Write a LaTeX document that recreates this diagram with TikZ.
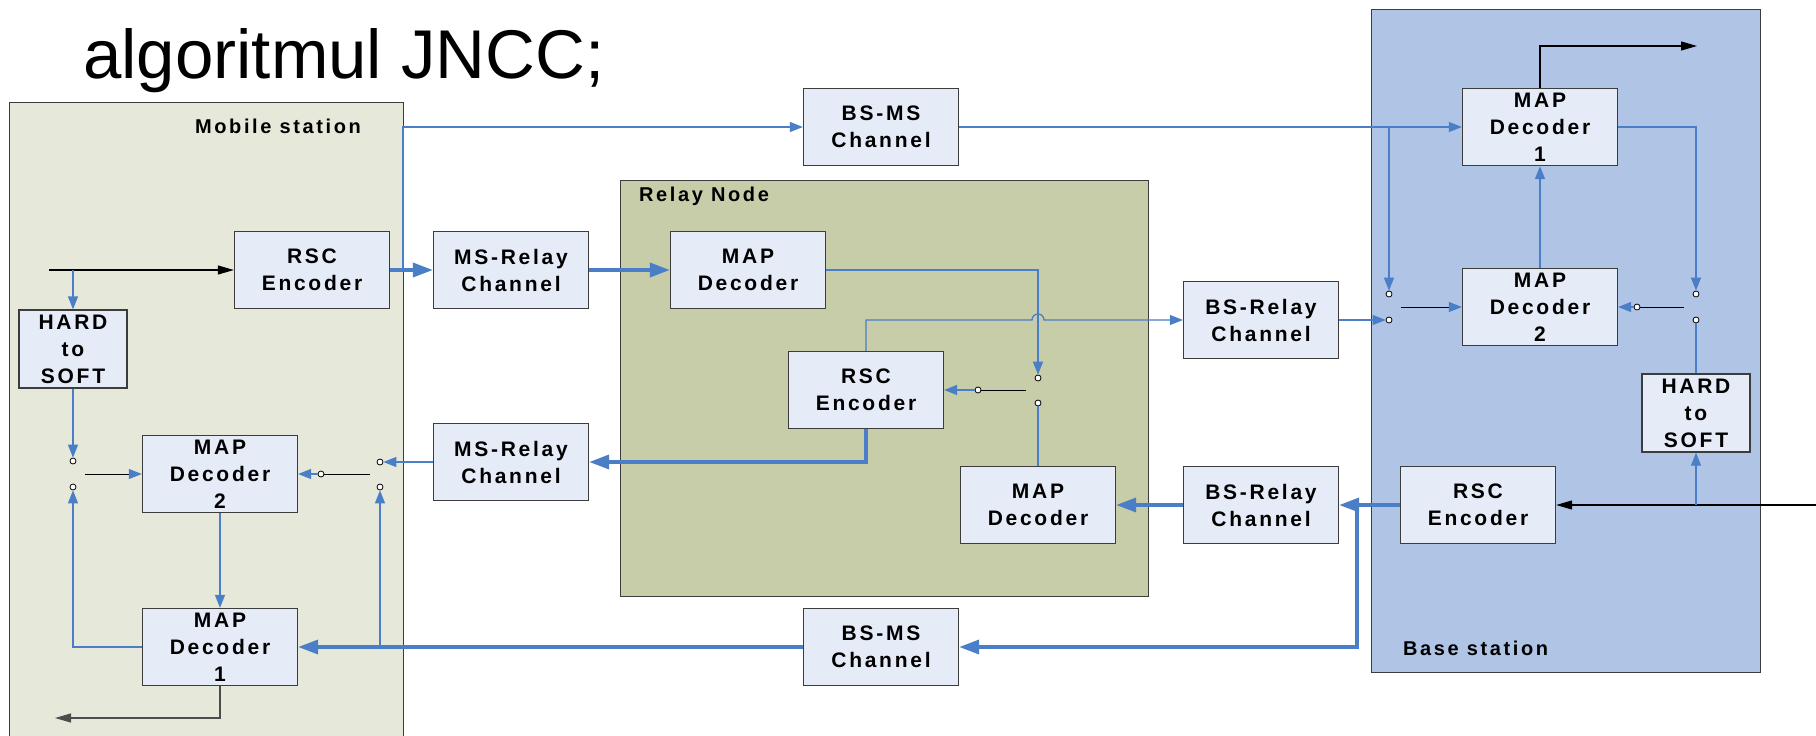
\documentclass[tikz,border=0pt]{standalone}
\usepackage{fontspec}
\setmainfont{Liberation Sans}
\newfontfamily\boxfont[LetterSpace=13]{Liberation Sans}
\usepackage{tikz}
\usetikzlibrary{positioning}
\usetikzlibrary{arrows.meta}

\definecolor{msgreen}{HTML}{E6E9D9}
\definecolor{rngreen}{HTML}{C6CDA8}
\definecolor{bsblue}{HTML}{B0C5E5}
\definecolor{boxfill}{HTML}{E6ECF7}
\definecolor{wireblue}{HTML}{4A7EC7}
\definecolor{edgegray}{HTML}{3C3C3C}

\tikzset{
  station/.style={draw=edgegray, line width=1.2pt, inner sep=0pt},
  stationlabel/.style={font=\boxfont\bfseries\fontsize{20}{24}\selectfont, inner sep=0pt},
  block/.style={draw=edgegray, fill=boxfill, line width=1.3pt, minimum width=155pt, minimum height=77pt, inner sep=0pt, align=center, font=\boxfont\bfseries\fontsize{21}{27}\selectfont},
  smallblock/.style={block, minimum width=108pt, minimum height=78pt},
  contact/.style={circle, draw=black, fill=white, line width=0.8pt, minimum size=6pt, inner sep=0pt},
  wire/.style={draw=wireblue, line width=1.3pt, -{Triangle[length=13pt,width=10pt]}},
  plainwire/.style={draw=wireblue, line width=1.3pt},
  bus/.style={draw=wireblue, line width=3.5pt, -{Triangle[length=20pt,width=14pt]}},
  lever/.style={draw=black, line width=1pt},
  leverwire/.style={draw=black, line width=1pt, -{Triangle[length=13pt,width=10pt,color=wireblue]}},
  signal/.style={draw=black, line width=1.2pt, -{Triangle[length=16pt,width=9pt]}},
}

\begin{document}
\begin{tikzpicture}[x=1pt,y=-1pt]
\useasboundingbox (0,0) rectangle (1816,736);
\clip (0,0) rectangle (1816,736);

\node[station, fill=msgreen, minimum width=394pt, minimum height=700pt, anchor=north west] (ms) at (9,102) {};
\node[station, fill=rngreen, minimum width=528pt, minimum height=416pt, anchor=north west] (rn) at (620,180) {};
\node[station, fill=bsblue, minimum width=389pt, minimum height=663pt, anchor=north west] (bs) at (1371,9) {};

\node[anchor=base west, inner sep=0pt, font=\fontsize{69}{72}\selectfont] (title) at (83,78) {algoritmul JNCC;};
\node[stationlabel, anchor=base] (mslabel) at (278,133) {Mobile station};
\node[stationlabel, anchor=base west] (rnlabel) at (639,201) {Relay Node};
\node[stationlabel, anchor=base west] (bslabel) at (1403,655) {Base station};

\node[block] (msrsc) at (312,270) {RSC\\Encoder};
\node[smallblock] (mshard) at (73,349) {HARD\\to\\SOFT};
\node[block] (msdec2) at (220,474) {MAP\\Decoder\\2};
\node[block] (msdec1) at (220,647) {MAP\\Decoder\\1};
\node[block] (msrel1) at (511,270) {MS-Relay\\Channel};
\node[block] (msrel2) at (511,462) {MS-Relay\\Channel};
\node[block] (bsms1) at (881,127) {BS-MS\\Channel};
\node[block] (bsms2) at (881,647) {BS-MS\\Channel};
\node[block] (rndec1) at (748,270) {MAP\\Decoder};
\node[block] (rnrsc) at (866,390) {RSC\\Encoder};
\node[block] (rndec2) at (1038,505) {MAP\\Decoder};
\node[block] (bsrel1) at (1261,320) {BS-Relay\\Channel};
\node[block] (bsrel2) at (1261,505) {BS-Relay\\Channel};
\node[block] (bsdec1) at (1540,127) {MAP\\Decoder\\1};
\node[block] (bsdec2) at (1540,307) {MAP\\Decoder\\2};
\node[smallblock] (bshard) at (1696,413) {HARD\\to\\SOFT};
\node[block] (bsrsc) at (1478,505) {RSC\\Encoder};

\node[contact] (msA) at (73,461) {};
\node[contact] (msB) at (73,487) {};
\node[contact] (msC) at (380,462) {};
\node[contact] (msD) at (380,487) {};
\node[contact] (msE) at (321,474) {};
\node[contact] (rnA) at (1038,378) {};
\node[contact] (rnB) at (1038,403) {};
\node[contact] (rnE) at (978,390) {};
\node[contact] (bsA) at (1389,294) {};
\node[contact] (bsB) at (1389,320) {};
\node[contact] (bsC) at (1696,294) {};
\node[contact] (bsD) at (1696,320) {};
\node[contact] (bsE) at (1637,307) {};

\coordinate (msin) at (49,270);
\coordinate (mstap) at (73,270);
\coordinate (msG) at (85,474);
\coordinate (msF) at (370,474);
\coordinate (mstap2) at (380,647);
\coordinate (mstap3) at (403,270);
\coordinate (msout) at (55,718);
\coordinate (rnF) at (1026,390);
\coordinate (rnhop) at (1032,320);
\coordinate (bstap1) at (1389,127);
\coordinate (bsG) at (1401,307);
\coordinate (bsF) at (1684,307);
\coordinate (bsout) at (1697,46);
\coordinate (bsin) at (1816,505);
\coordinate (bstap2) at (1696,505);
\coordinate (bstap3) at (1357,505);

\draw[signal] (msin) -- (msrsc.west);
\draw[wire] (mstap) -- (mshard.north);
\draw[wire] (mshard.south) -- (msA);
\draw[leverwire] (msG) -- (msdec2.west);
\draw[wire] (msdec2.south) -- (msdec1.north);
\draw[wire] (msdec1.west) -| (msB);
\draw[signal, draw=black!70] (msdec1.south) |- (msout);
\draw[wire] (msrel2.west) -- (msC);
\draw[lever] (msE) -- (msF);
\draw[wire] (msE) -- (msdec2.east);
\draw[wire] (mstap2) -- (msD);
\draw[bus] (bsms2.west) -- (msdec1.east);
\draw[bus] (msrsc.east) -- (msrel1.west);
\draw[wire] (mstap3) |- (bsms1.west);
\draw[bus] (msrel1.east) -- (rndec1.west);

\draw[wire] (rndec1.east) -| (rnA);
\draw[plainwire] (rndec2.north) -- (rnB);
\draw[lever] (rnE) -- (rnF);
\draw[wire] (rnE) -- (rnrsc.east);
\draw[wire] (rnrsc.north) |- (rnhop) arc[start angle=180, end angle=0, radius=6pt] -- (bsrel1.west);
\draw[bus] (rnrsc.south) |- (msrel2.east);
\draw[bus] (bsrel2.west) -- (rndec2.east);

\draw[wire] (bsms1.east) -- (bsdec1.west);
\draw[wire] (bstap1) -- (bsA);
\draw[wire] (bsrel1.east) -- (bsB);
\draw[leverwire] (bsG) -- (bsdec2.west);
\draw[wire] (bsdec2.north) -- (bsdec1.south);
\draw[wire] (bsdec1.east) -| (bsC);
\draw[plainwire] (bshard.north) -- (bsD);
\draw[lever] (bsE) -- (bsF);
\draw[wire] (bsE) -- (bsdec2.east);
\draw[signal] (bsdec1.north) |- (bsout);
\draw[signal] (bsin) -- (bsrsc.east);
\draw[wire] (bstap2) -- (bshard.south);
\draw[bus] (bsrsc.west) -- (bsrel2.east);
\draw[bus] (bstap3) |- (bsms2.east);
\end{tikzpicture}
\end{document}
